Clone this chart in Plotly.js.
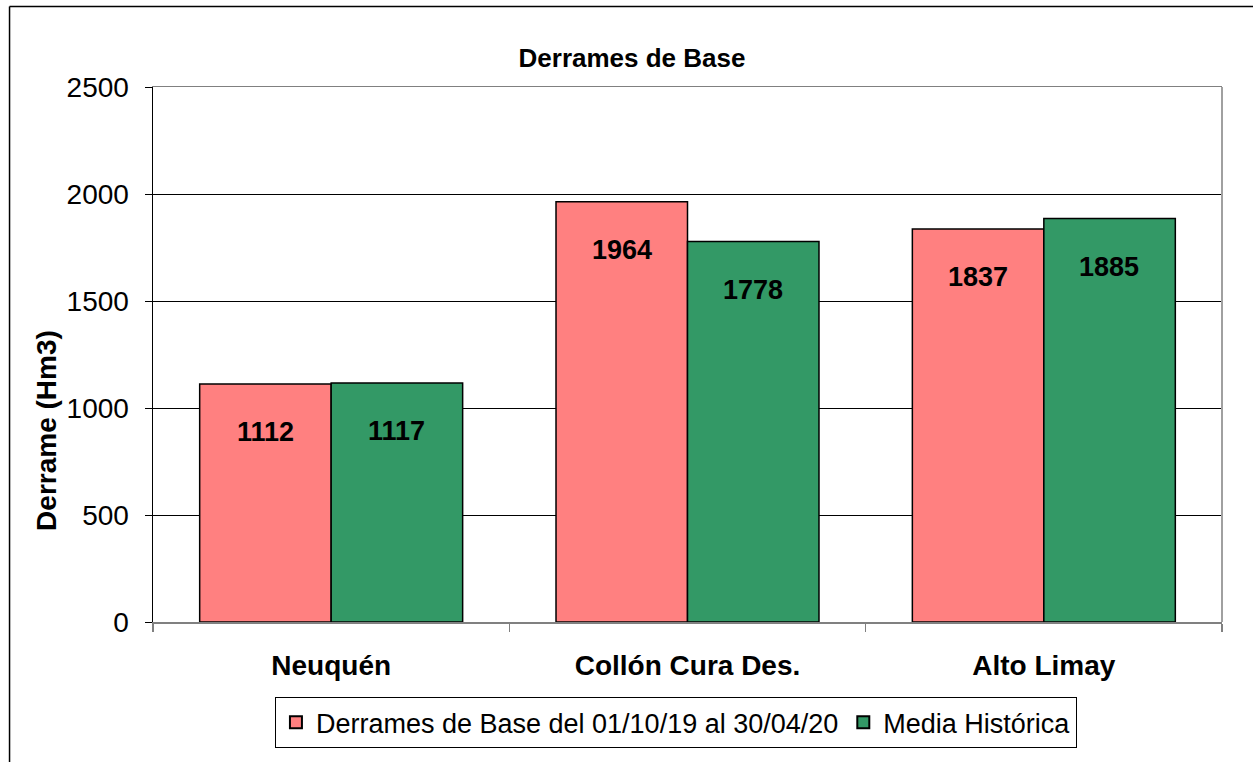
<!DOCTYPE html>
<html>
<head>
<meta charset="utf-8">
<script src="https://cdn.plot.ly/plotly-3.0.1.min.js"></script>
<style>
  html, body { margin: 0; padding: 0; background: #ffffff; }
  #chart { width: 1253px; height: 762px; }
</style>
</head>
<body>
<div id="chart"></div>
<script>
const categories = ["Neuquén", "Collón Cura Des.", "Alto Limay"];
const seriesNames = ["Derrames de Base del 01/10/19 al 30/04/20", "Media Histórica"];
const baseValues = [1112, 1964, 1837];
const mediaValues = [1117, 1778, 1885];
const yTicks = [0, 500, 1000, 1500, 2000, 2500];

const FONT = "Liberation Sans, Arial, sans-serif";
const colors = ["#FF8080", "#339966"];

const traces = [
  {
    type: "bar", name: seriesNames[0], x: categories, y: baseValues,
    marker: { color: colors[0], line: { color: "#000000", width: 1.5 } },
    hoverinfo: "x+y"
  },
  {
    type: "bar", name: seriesNames[1], x: categories, y: mediaValues,
    marker: { color: colors[1], line: { color: "#000000", width: 1.5 } },
    hoverinfo: "x+y"
  }
];

const annotations = [];
[baseValues, mediaValues].forEach((vals, si) => {
  vals.forEach((v, i) => {
    annotations.push({
      x: categories[i], y: v, xref: "x", yref: "y",
      text: String(v), showarrow: false,
      xshift: si === 0 ? -65.5 : 65.5, yshift: -48,
      yanchor: "middle", xanchor: "center",
      font: { family: FONT, size: 27, color: "#000000", weight: "bold" }
    });
  });
});
// y-axis title (placed as annotation so it can sit below the plot's centre as in the reference)
annotations.push({
  xref: "paper", yref: "paper", x: -0.0992, y: 0.359,
  text: "<b>Derrame (Hm3)</b>", textangle: -90, showarrow: false,
  xanchor: "center", yanchor: "middle",
  font: { family: FONT, size: 28, color: "#000000" }
});

const layout = {
  width: 1253, height: 762,
  margin: { l: 153, r: 31, t: 87, b: 140, pad: 0 },
  paper_bgcolor: "#ffffff", plot_bgcolor: "#ffffff",
  font: { family: FONT, color: "#000000" },
  title: {
    text: "<b>Derrames de Base</b>",
    font: { family: FONT, size: 26, color: "#000000" },
    x: 0.5044, xref: "container", xanchor: "center",
    y: 0.924, yref: "container", yanchor: "middle"
  },
  barmode: "group",
  bargap: 0.262, bargroupgap: 0,
  showlegend: true,
  legend: {
    orientation: "h", x: 0.489, xanchor: "center", xref: "paper",
    y: -0.14, yanchor: "top", yref: "paper",
    bordercolor: "#000000", borderwidth: 1.2, bgcolor: "#ffffff",
    font: { family: FONT, size: 27, color: "#000000" },
    itemsizing: "constant"
  },
  xaxis: {
    type: "category",
    tickson: "boundaries", ticks: "outside", ticklen: 8, tickcolor: "#808080", tickwidth: 1.5,
    showline: true, linecolor: "#808080", linewidth: 1.5, mirror: true,
    showgrid: false, zeroline: false,
    tickfont: { family: FONT, size: 28, color: "#000000", weight: "bold" },
    ticklabelstandoff: 18,
    fixedrange: true
  },
  yaxis: {
    range: [0, 2500], tickvals: yTicks, ticktext: yTicks.map(String),
    ticks: "outside", ticklen: 7, tickcolor: "#000000", tickwidth: 1,
    showline: true, linecolor: "#000000", linewidth: 1.5, mirror: false,
    showgrid: true, gridcolor: "#000000", gridwidth: 1,
    zeroline: false,
    tickfont: { family: FONT, size: 28, color: "#000000" },
    ticklabelstandoff: 10,
    fixedrange: true
  },
  shapes: [
    { type: "line", xref: "paper", yref: "paper", x0: 1, x1: 1, y0: 0, y1: 1,
      line: { color: "#A0A0A0", width: 2 } },
    { type: "line", xref: "paper", yref: "paper", x0: -0.1342, x1: -0.1342, y0: 1.1505, y1: -0.3,
      line: { color: "#000000", width: 1.5 } },
    { type: "line", xref: "paper", yref: "paper", x0: -0.1342, x1: 1.05, y0: 1.1505, y1: 1.1505,
      line: { color: "#000000", width: 1.5 } }
  ],
  annotations: annotations
};

Plotly.newPlot("chart", traces, layout, { displayModeBar: false, staticPlot: true });
</script>
</body>
</html>
